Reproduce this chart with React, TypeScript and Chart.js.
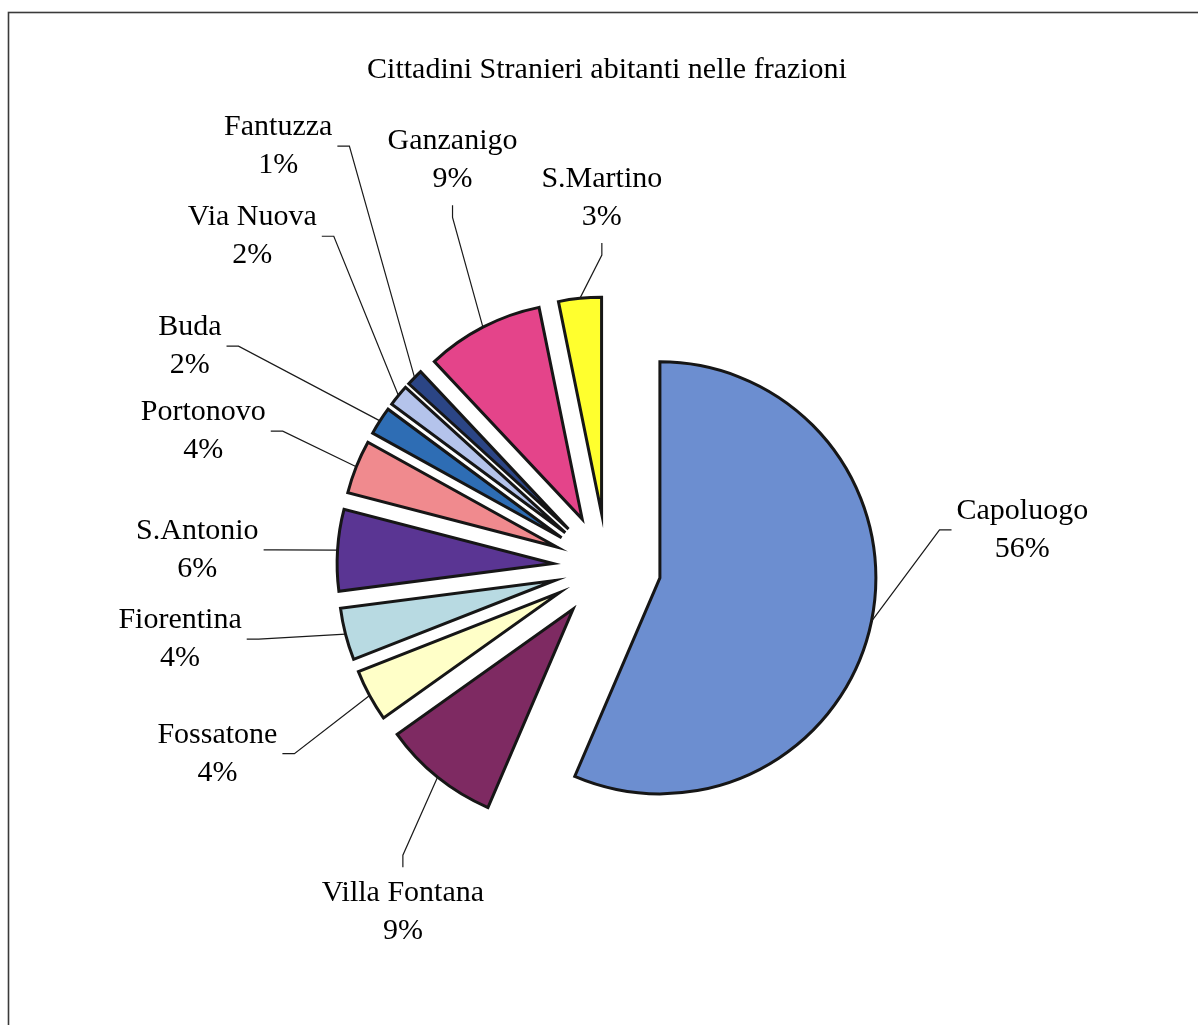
import React, { useEffect, useRef } from "react";
import { Chart, registerables } from "chart.js";

Chart.register(...registerables);

// ---- data ----
const TITLE = "Cittadini Stranieri abitanti nelle frazioni";
const CATEGORIES = [
  "Capoluogo",
  "Villa Fontana",
  "Fossatone",
  "Fiorentina",
  "S.Antonio",
  "Portonovo",
  "Buda",
  "Via Nuova",
  "Fantuzza",
  "Ganzanigo",
  "S.Martino",
];
const VALUES = [56.45, 8.7, 3.9, 3.9, 6.1, 4.0, 2.1, 1.6, 1.25, 8.8, 3.2];

// ---- styles ----
const COLORS = [
  "#6C8ED0",
  "#7E2A62",
  "#FFFFC8",
  "#B8DAE2",
  "#5A3593",
  "#F08A8E",
  "#2E6DB4",
  "#B4C3EB",
  "#2B4585",
  "#E4448A",
  "#FFFF2E",
];

// ---- layout (label placement: angle clockwise from 12 o'clock in degrees, distance from pie centre) ----
const LABEL_ANGLE = [84.9, 210.6, 244.4, 260.4, 272.4, 288.6, 297.9, 313, 322, 339.2, 359.2];
const LABEL_DIST = [417, 401, 432, 433, 410, 426, 472, 485, 534, 435, 369];
const EXPLODE = 54;
const RADIUS = 216;
const FONT_FAMILY = "'Liberation Serif', 'Times New Roman', 'DejaVu Serif', serif";
const LABEL_FONT = `30px ${FONT_FAMILY}`;
const LINE_GAP = 38;

const framePlugin = {
  id: "frame",
  beforeDraw(chart: any) {
    const ctx = chart.ctx;
    ctx.save();
    ctx.fillStyle = "#ffffff";
    ctx.fillRect(0, 0, chart.width, chart.height);
    ctx.strokeStyle = "#3a3a3a";
    ctx.lineWidth = 1.6;
    ctx.strokeRect(8.5, 12.5, chart.width + 50, chart.height + 50);
    ctx.restore();
  },
};

const explodePlugin = {
  id: "explode",
  beforeDatasetsDraw(chart: any) {
    const meta = chart.getDatasetMeta(0);
    meta.data.forEach((arc: any) => {
      const mid = (arc.startAngle + arc.endAngle) / 2;
      arc.x += Math.cos(mid) * EXPLODE;
      arc.y += Math.sin(mid) * EXPLODE;
    });
  },
  afterDatasetsDraw(chart: any) {
    const meta = chart.getDatasetMeta(0);
    meta.data.forEach((arc: any) => {
      const mid = (arc.startAngle + arc.endAngle) / 2;
      arc.x -= Math.cos(mid) * EXPLODE;
      arc.y -= Math.sin(mid) * EXPLODE;
    });
  },
};

const labelPlugin = {
  id: "outerLabels",
  afterDraw(chart: any) {
    const ctx = chart.ctx;
    const meta = chart.getDatasetMeta(0);
    const total = VALUES.reduce((a, b) => a + b, 0);
    ctx.save();
    ctx.font = LABEL_FONT;
    ctx.fillStyle = "#000000";
    ctx.strokeStyle = "#1a1a1a";
    ctx.lineWidth = 1.2;
    ctx.textAlign = "center";
    ctx.textBaseline = "middle";
    meta.data.forEach((arc: any, i: number) => {
      const { x, y, startAngle, endAngle, outerRadius } = arc;
      const mid = (startAngle + endAngle) / 2;
      const ex = x + Math.cos(mid) * EXPLODE;
      const ey = y + Math.sin(mid) * EXPLODE;
      const sx = ex + Math.cos(mid) * outerRadius;
      const sy = ey + Math.sin(mid) * outerRadius;
      const degA = LABEL_ANGLE[i];
      const la = ((degA - 90) * Math.PI) / 180;
      const lx = x + Math.cos(la) * LABEL_DIST[i];
      const ly = y + Math.sin(la) * LABEL_DIST[i];
      const line1 = CATEGORIES[i];
      const line2 = Math.round((VALUES[i] / total) * 100) + "%";
      const w = Math.max(ctx.measureText(line1).width, ctx.measureText(line2).width);
      let ax: number, ay: number, bx: number, by: number;
      if (Math.abs(Math.sin((degA * Math.PI) / 180)) < 0.56) {
        ax = lx;
        if (ly < y) {
          ay = ly + 45;
          by = ay + 12;
        } else {
          ay = ly - 45;
          by = ay - 12;
        }
        bx = ax;
      } else {
        ay = ly;
        by = ly;
        if (lx < x) {
          ax = lx + w / 2 + 5;
          bx = ax + 12;
        } else {
          ax = lx - w / 2 - 5;
          bx = ax - 12;
        }
      }
      ctx.beginPath();
      ctx.moveTo(sx, sy);
      ctx.lineTo(bx, by);
      ctx.lineTo(ax, ay);
      ctx.stroke();
      ctx.fillText(line1, lx, ly - LINE_GAP / 2);
      ctx.fillText(line2, lx, ly + LINE_GAP / 2);
    });
    ctx.restore();
  },
};

export default function App() {
  const ref = useRef<HTMLCanvasElement | null>(null);
  useEffect(() => {
    if (!ref.current) return;
    const chart = new Chart(ref.current, {
      type: "pie",
      data: {
        labels: CATEGORIES,
        datasets: [
          {
            data: VALUES,
            backgroundColor: COLORS,
            borderColor: "#161616",
            borderWidth: 3,
            borderJoinStyle: "miter",
            offset: 0,
            hoverOffset: 0,
          } as any,
        ],
      },
      options: {
        responsive: false,
        animation: false,
        events: [],
        radius: RADIUS,
        layout: { padding: { left: 16, right: 0, top: 0, bottom: 9 } },
        plugins: {
          legend: { display: false },
          tooltip: { enabled: false },
          title: {
            display: true,
            text: TITLE,
            color: "#000000",
            font: { family: FONT_FAMILY, size: 30, weight: "normal" },
            padding: { top: 52, bottom: 30 },
          },
        },
      } as any,
      plugins: [framePlugin, explodePlugin, labelPlugin],
    });
    return () => chart.destroy();
  }, []);
  return (
    <div style={{ position: "absolute", left: 0, top: 0, width: 1198, height: 1025 }}>
      <canvas ref={ref} width={1198} height={1025} style={{ display: "block" }} />
    </div>
  );
}
